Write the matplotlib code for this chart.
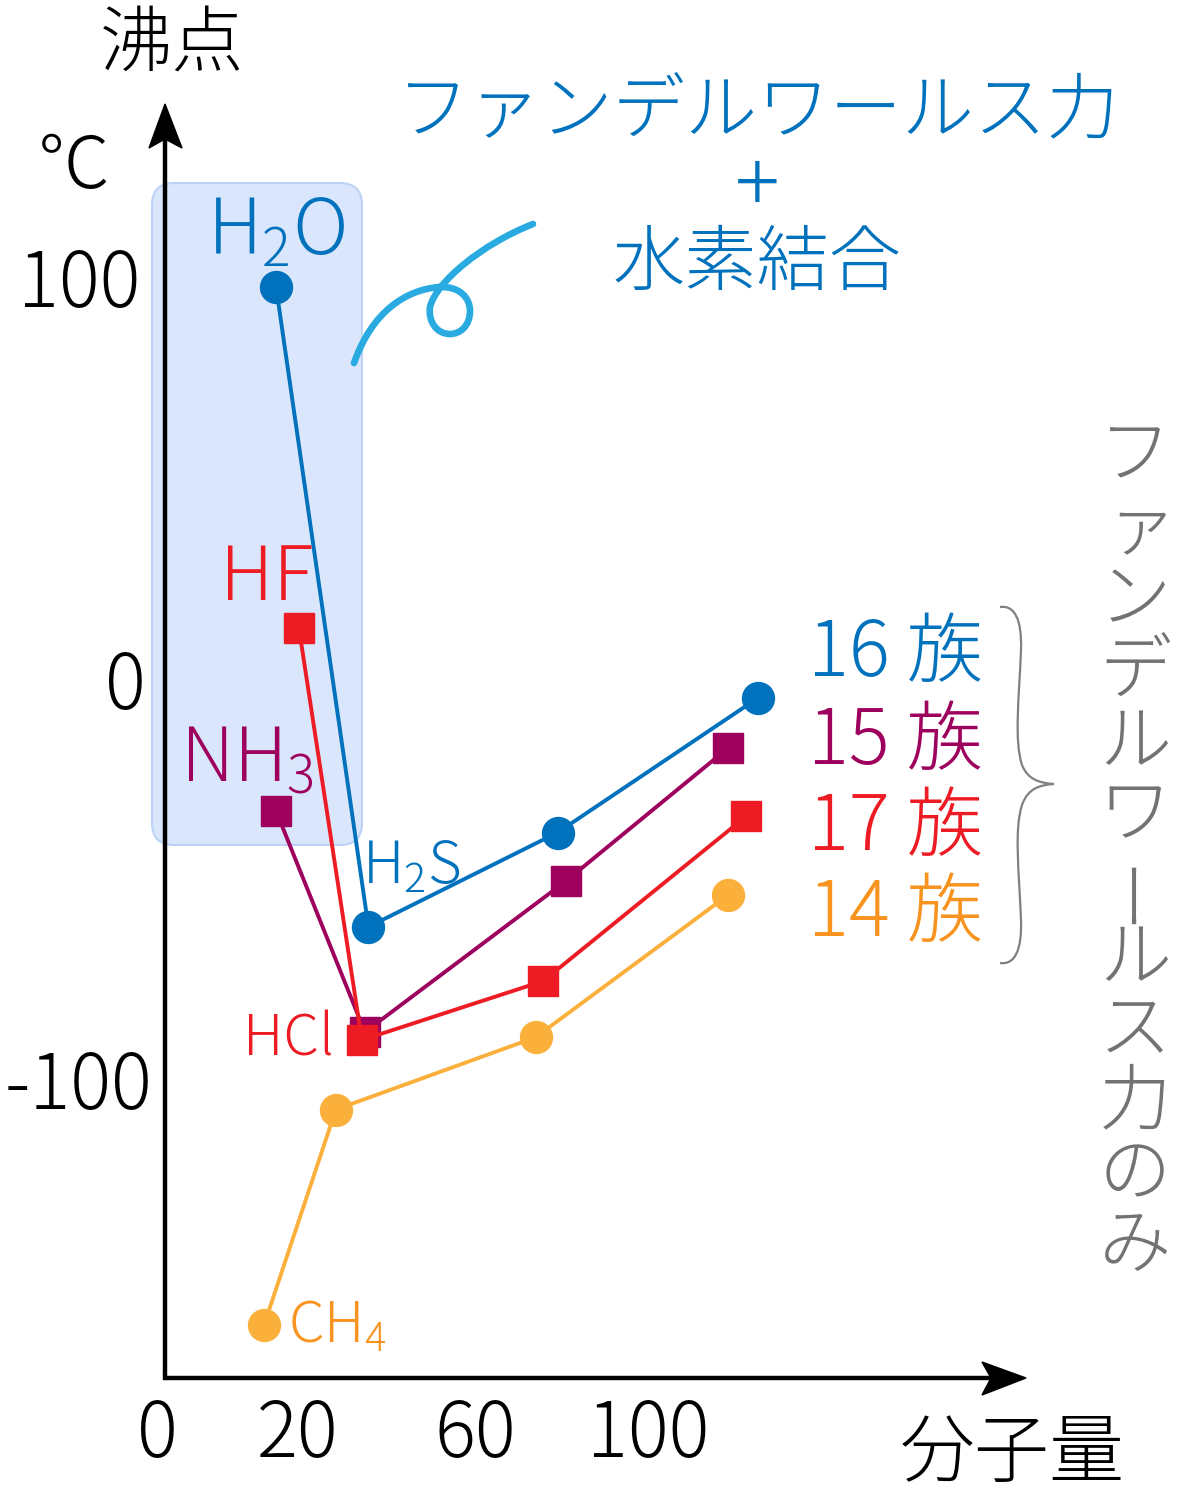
import matplotlib
matplotlib.use("Agg")
import matplotlib.pyplot as plt
from matplotlib.transforms import Affine2D
from matplotlib.patches import FancyBboxPatch, Polygon, PathPatch
from matplotlib.path import Path

plt.rcParams['font.family'] = ['Noto Sans CJK JP', 'DejaVu Sans']
plt.rcParams['font.weight'] = 'light'
plt.rcParams['mathtext.default'] = 'regular'

# ---- data (x = 分子量 on the chart's own scale, y = 沸点 ℃) ----
groups = ['16 族', '15 族', '17 族', '14 族']
mw16 = [15.0, 36.0, 79.0, 124.5]      # H2O, H2S, H2Se, H2Te
bp16 = [100.0, -59.5, -36.0, -2.5]
mw15 = [15.0, 35.2, 81.0, 117.7]      # NH3, PH3, AsH3, SbH3
bp15 = [-30.6, -85.7, -48.0, -15.0]
mw17 = [20.2, 34.5, 75.7, 121.8]      # HF, HCl, HBr, HI
bp17 = [15.0, -87.7, -73.0, -32.0]
mw14 = [12.3, 28.6, 74.0, 117.7]      # CH4, SiH4, GeH4, SnH4
bp14 = [-158.6, -105.0, -87.0, -51.6]
xtick_labels = ['0', '20', '60', '100']
ytick_labels = ['100', '0', '-100']

BLUE = '#0071BC'
PURPLE = '#9E005D'
RED = '#ED1C24'
ORANGE_M = '#FBB03B'
ORANGE_T = '#F7931E'
GRAY = '#737373'

W, H = 1182, 1509
fig = plt.figure(figsize=(W / 100, H / 100), dpi=100)
ax = fig.add_axes([0, 0, 1, 1])
# data <-> pixel scale:  px = 210 + 4.4*x ,  py = 688 - 4.015*y
ax.set_xlim(-210 / 4.4, (W - 210) / 4.4)
ax.set_ylim((688 - H) / 4.015, 688 / 4.015)
ax.axis('off')

# pixel transform (top-left origin) for annotations
T = Affine2D().scale(1, -1).translate(0, H)

# highlight box
box = FancyBboxPatch((152, 183), 210, 662, boxstyle='round,pad=0,rounding_size=22',
                     transform=T, facecolor='#DAE6FB', edgecolor='#BCD2F7', lw=1.5, zorder=1)
ax.add_patch(box)

# axes with arrows
ax.plot([165, 165], [1380, 140], color='black', lw=3.2, transform=T, zorder=3,
        solid_capstyle='butt')
ax.plot([163, 995], [1378, 1378], color='black', lw=3.2, transform=T, zorder=3,
        solid_capstyle='butt')
ax.add_patch(Polygon([(165, 104), (149, 148), (165, 139), (182, 148)], closed=True,
                     transform=T, facecolor='black', edgecolor='black', zorder=3))
ax.add_patch(Polygon([(1026, 1378), (982, 1362), (991, 1378), (982, 1395)], closed=True,
                     transform=T, facecolor='black', edgecolor='black', zorder=3))

# series
ax.plot(mw14, bp14, '-o', color=ORANGE_M, lw=2.8, ms=23, zorder=4)
ax.plot(mw15, bp15, '-s', color=PURPLE, lw=2.8, ms=21.5, zorder=5)
ax.plot(mw17, bp17, '-s', color=RED, lw=2.8, ms=21.5, zorder=6)
ax.plot(mw16, bp16, '-o', color=BLUE, lw=2.8, ms=23, zorder=7)

# tick labels
for lab, px in zip(xtick_labels, [157, 298, 475, 648]):
    ax.text(px, 1435, lab, transform=T, ha='center', va='center', fontsize=55)
for lab, (px, py) in zip(ytick_labels, [(140, 285), (146, 688), (152, 1088)]):
    ax.text(px, py, lab, transform=T, ha='right', va='center', fontsize=55)

# axis titles
ax.text(172, 45, '沸点', transform=T, ha='center', va='center', fontsize=52)
ax.text(74, 168, '℃', transform=T, ha='center', va='center', fontsize=52)
ax.text(1012, 1455, '分子量', transform=T, ha='center', va='center', fontsize=54)

# top annotation
ax.text(758, 112, 'ファンデルワールス力', transform=T, ha='center', va='center',
        fontsize=52, color=BLUE)
ax.text(757, 188, '+', transform=T, ha='center', va='center', fontsize=60, color=BLUE)
ax.text(757, 265, '水素結合', transform=T, ha='center', va='center', fontsize=52, color=BLUE)

# cyan curl
verts = [(354, 363),
         (372, 312), (405, 290), (439, 287),
         (460, 286), (470, 298), (470, 311),
         (470, 326), (460, 334), (450, 334),
         (437, 334), (428, 322), (430, 307),
         (436, 282), (482, 244), (533, 224)]
codes = [Path.MOVETO] + [Path.CURVE4] * 15
ax.add_patch(PathPatch(Path(verts, codes), transform=T, facecolor='none',
                       edgecolor='#29ABE2', lw=4.8, capstyle='round', zorder=2))

# molecule labels
ax.text(207, 255, 'H$_2$O', transform=T, ha='left', va='baseline', fontsize=55, color=BLUE, zorder=8)
ax.text(220, 600, 'HF', transform=T, ha='left', va='baseline', fontsize=54, color=RED, zorder=8)
ax.text(180, 782, 'NH$_3$', transform=T, ha='left', va='baseline', fontsize=54, color=PURPLE, zorder=8)
ax.text(362, 884, 'H$_2$S', transform=T, ha='left', va='baseline', fontsize=42, color=BLUE, zorder=8)
ax.text(243, 1055, 'HCl', transform=T, ha='left', va='baseline', fontsize=41, color=RED, zorder=8)
ax.text(288, 1342, 'CH$_4$', transform=T, ha='left', va='baseline', fontsize=41, color=ORANGE_T, zorder=8)

# group labels
for lab, col, py in zip(groups, [BLUE, PURPLE, RED, ORANGE_T], [655, 742, 828, 915]):
    ax.text(808, py, lab, transform=T, ha='left', va='center', fontsize=55, color=col)

# brace
bverts = [(1000, 607),
          (1015, 605), (1022, 620), (1021, 650),
          (1019, 700), (1014, 740), (1022, 765),
          (1028, 780), (1040, 783), (1054, 784),
          (1040, 785), (1028, 788), (1022, 805),
          (1014, 830), (1019, 870), (1021, 920),
          (1022, 950), (1015, 965), (1000, 963)]
bcodes = [Path.MOVETO] + [Path.CURVE4] * 18
ax.add_patch(PathPatch(Path(bverts, bcodes), transform=T, facecolor='none',
                       edgecolor='#808080', lw=1.6, zorder=2))

# vertical text
vtext = 'ファンデルワールス力のみ'
for i, ch in enumerate(vtext):
    py = 457 + i * 71.8
    px = 1135
    rot = 0
    fs = 52
    if ch == 'ー':
        rot = 90
    if ch == 'ァ':
        px += 6
        py += 2
        fs = 50
    ax.text(px, py, ch, transform=T, ha='center', va='center', fontsize=fs,
            color=GRAY, rotation=rot)

fig.savefig('out.png', dpi=100)
